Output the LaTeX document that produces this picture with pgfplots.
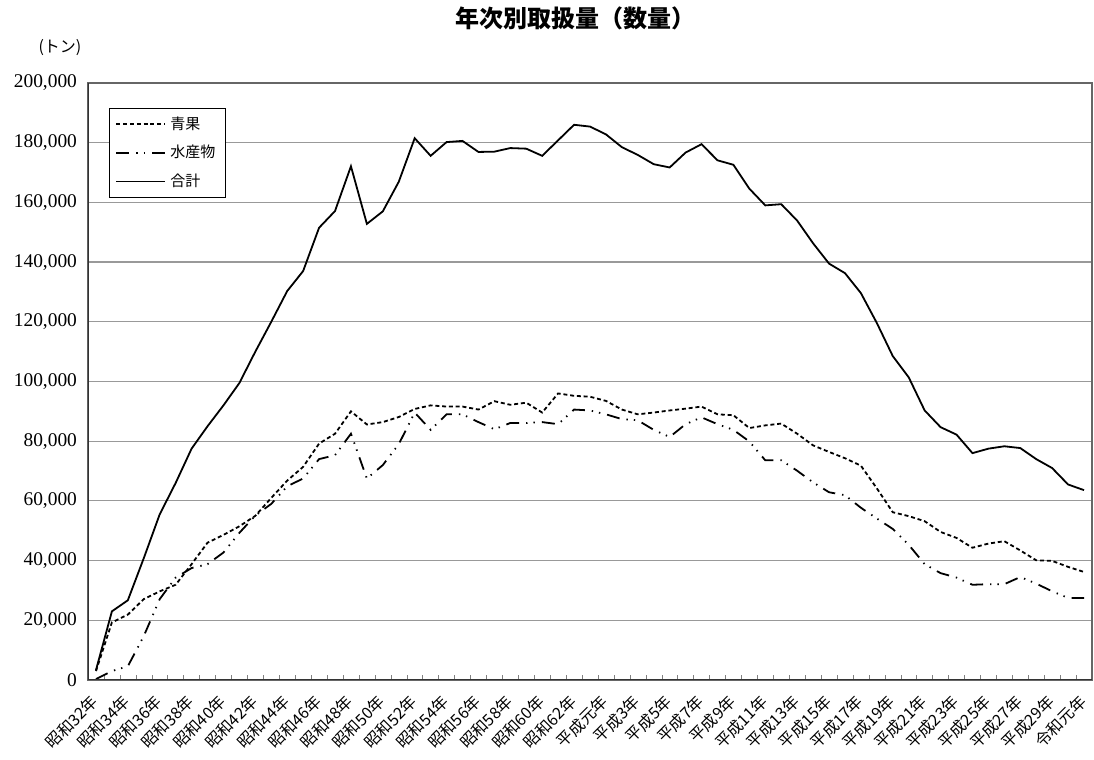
\documentclass[border=0pt]{standalone}
\usepackage{fontspec}
\setmainfont{Liberation Serif}
\newfontfamily\cjk{Noto Sans CJK JP}
\usepackage{pgfplots}
\usepackage{pgfplotstable}
\pgfplotsset{compat=1.18}

% year index (0 = S32/1957 ... 62 = R1/2019), tonnes
\pgfplotstableread{
x  seika  suisan  total
0  3000   300     3300
1  19300  3000    23000
2  21900  4600    26700
3  27100  14700   40800
4  29700  27100   55500
5  31900  34300   66000
6  38800  37500   77500
7  46000  38800   85000
8  48600  42700   92000
9  51500  49300   99500
10 55000  55100   110000
11 61000  59000   120000
12 66800  64900   130300
13 71400  67500   137000
14 79200  74000   151500
15 82500  75300   157100
16 90000  82500   172100
17 85600  67500   152800
18 86400  72000   157000
19 88100  79000   166900
20 90800  89600   181500
21 92000  83800   175600
22 91600  89000   180200
23 91600  89000   180600
24 90600  86400   176900
25 93400  84000   177000
26 92200  86100   178200
27 92900  86100   178000
28 89600  86400   175600
29 96000  85700   180800
30 95200  90600   186000
31 94900  90300   185400
32 93500  89000   182800
33 90600  87400   178500
34 89000  87000   175900
35 89600  83800   172800
36 90300  81400   171700
37 90900  85700   176700
38 91600  88000   179500
39 89000  85700   174100
40 88700  83800   172600
41 84400  79900   164600
42 85300  73600   159000
43 85900  73600   159400
44 82500  70100   153900
45 78600  66200   146300
46 76400  62900   139500
47 74300  61900   136300
48 71800  57700   129600
49 64200  54100   119600
50 56200  50600   108500
51 54900  45300   101400
52 53200  38800   90300
53 49600  35800   84700
54 47600  34300   82200
55 44300  31900   76000
56 45700  32100   77500
57 46500  32100   78300
58 43400  34500   77700
59 40100  32300   74000
60 39900  29700   71000
61 37900  27500   65500
62 36200  27500   63600
}\data

\begin{document}
\begin{tikzpicture}
\useasboundingbox (-44pt,-40pt) rectangle (503pt,340pt);
\begin{axis}[
  at={(0,0)}, anchor=south west,
  scale only axis, width=502pt, height=298.5pt,
  xmin=-0.5, xmax=62.5, ymin=0, ymax=200000,
  xtick={0,2,...,62},
  xticklabels={昭和32年,昭和34年,昭和36年,昭和38年,昭和40年,昭和42年,昭和44年,昭和46年,昭和48年,昭和50年,昭和52年,昭和54年,昭和56年,昭和58年,昭和60年,昭和62年,平成元年,平成3年,平成5年,平成7年,平成9年,平成11年,平成13年,平成15年,平成17年,平成19年,平成21年,平成23年,平成25年,平成27年,平成29年,令和元年},
  minor xtick={-0.5,0.5,...,62.5},
  major x tick style={draw=none},
  minor tick length=2.5pt,
  tick align=inside,
  xtick pos=bottom, ytick pos=left,
  ytick={0,20000,40000,60000,80000,100000,120000,140000,160000,180000,200000},
  yticklabels={0,{20,000},{40,000},{60,000},{80,000},{100,000},{120,000},{140,000},{160,000},{180,000},{200,000}},
  major y tick style={draw=none},
  scaled y ticks=false,
  yticklabel style={font=\fontsize{9.7}{11}\selectfont, xshift=-2pt},
  xticklabel style={font=\cjk\fontsize{8}{9}\selectfont, rotate=45, anchor=east, inner sep=0.5pt},
  xticklabel shift=9pt,
  ymajorgrids,
  major grid style={gray!80, line width=0.6pt},
  axis line style={gray!80!black, line width=0.8pt},
  legend style={at={(0.021,0.958)}, anchor=north west, draw=black, line width=0.5pt,
    font=\cjk\fontsize{7.5}{8}\selectfont, row sep=2.5pt, inner xsep=3pt, inner ysep=2pt,
    cells={anchor=west}},
  legend image code/.code={\draw[#1] (0pt,0pt) -- (24.5pt,0pt);},
]
\addplot[black, line width=0.9pt, dash pattern=on 2pt off 1.4pt] table[x=x, y=seika] {\data};
\addlegendentry{青果}
\addplot[black, line width=0.9pt, dash pattern=on 6.5pt off 3.5pt on 0.7pt off 3pt on 0.7pt off 3.5pt] table[x=x, y=suisan] {\data};
\addlegendentry{水産物}
\addplot[black, line width=0.9pt] table[x=x, y=total] {\data};
\addlegendentry{合計}
\draw[gray!40!black, line width=1pt] (rel axis cs:0,1) -- (rel axis cs:0,0) -- (rel axis cs:1,0);
\end{axis}
\node[font=\cjk\bfseries\fontsize{12}{14}\selectfont] at (243.5pt,331pt) {年次別取扱量（数量）};
\node[font=\cjk\fontsize{8}{9}\selectfont] at (-14pt,316pt) {(トン)};
\end{tikzpicture}
\end{document}
